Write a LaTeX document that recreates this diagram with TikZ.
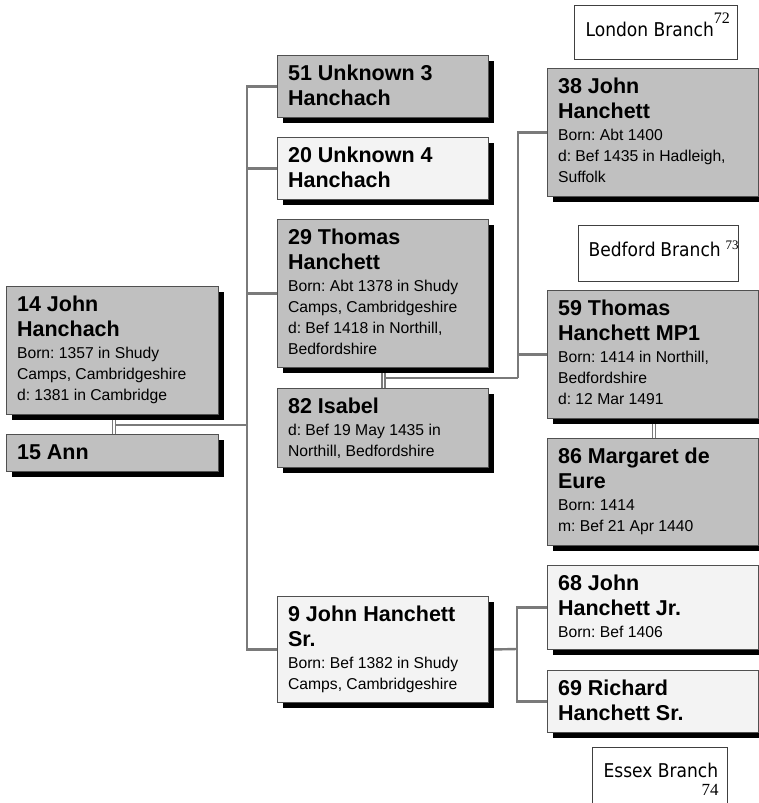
\documentclass[tikz,border=0pt]{standalone}
\usepackage{fontspec}
\setmainfont{Liberation Sans}
\newfontfamily\branchfont{DejaVu Sans Condensed}
\newfontfamily\supfont{Liberation Serif}
\usetikzlibrary{shadows,calc}
\frenchspacing
\definecolor{boxgray}{HTML}{C0C0C0}
\definecolor{boxlight}{HTML}{F3F3F3}
\definecolor{linegray}{HTML}{7A7A7A}
\definecolor{edgegray}{HTML}{505050}
\newcommand{\pbox}[4]{\parbox[c][#2pt][t]{#1pt}{\raggedright\frenchspacing
  \fontsize{21.5}{25.5}\selectfont\bfseries\rule{0pt}{24.5pt}#3\par
  \vspace{1pt}\fontsize{15.7}{21}\selectfont\mdseries #4\par}}
\newcommand{\nbox}[3]{\parbox[c][#2pt][t]{#1pt}{\raggedright\frenchspacing
  \fontsize{21.5}{25.5}\selectfont\bfseries\rule{0pt}{24.5pt}#3\par}}
\begin{document}
\begin{tikzpicture}[x=1pt,y=-1pt,
  person/.style={draw=edgegray, line width=1.1pt, anchor=north west,
    inner xsep=10.5pt, inner ysep=0pt,
    drop shadow={shadow xshift=5pt,shadow yshift=-5pt,fill=black,opacity=1}},
  gp/.style={person, fill=boxgray},
  lp/.style={person, fill=boxlight},
  branch/.style={draw=edgegray!80!black, line width=1.2pt, fill=white, anchor=north west,
    inner sep=0pt, font={\branchfont\fontsize{19}{18}\selectfont}},
  conn/.style={draw=linegray, line width=2.4pt},
  spouse/.style={draw=linegray, line width=1.6pt, double=white, double distance=1.6pt}]
\useasboundingbox (0,0) rectangle (759,803);
\clip (0,0) rectangle (759,803);
\fill[white] (0,0) rectangle (759,803);

% --- person boxes (placed first to get anchors) ---
\path
  node[gp] (p14) at (6,286) {\pbox{191}{128}{14 John\\Hanchach}{Born: 1357 in Shudy\\Camps, Cambridgeshire\\d: 1381 in Cambridge}}
  node[gp] (p15) at (6,434) {\nbox{191}{37}{15 Ann}}
  node[gp] (p51) at (277,55) {\nbox{190}{62}{51 Unknown 3\\Hanchach}}
  node[lp] (p20) at (277,137) {\nbox{190}{62}{20 Unknown 4\\Hanchach}}
  node[gp] (p29) at (277,219) {\pbox{190}{148}{29 Thomas\\Hanchett}{Born: Abt 1378 in Shudy\\Camps, Cambridgeshire\\d: Bef 1418 in Northill,\\Bedfordshire}}
  node[gp] (p82) at (277,388) {\pbox{190}{79}{82 Isabel}{d: Bef 19 May 1435 in\\Northill, Bedfordshire}}
  node[lp] (p9) at (277,596) {\pbox{190}{106}{9 John Hanchett\\Sr.}{Born: Bef 1382 in Shudy\\Camps, Cambridgeshire}}
  node[gp] (p38) at (547,68) {\pbox{190}{128}{38 John\\Hanchett}{Born: Abt 1400\\d: Bef 1435 in Hadleigh,\\Suffolk}}
  node[gp] (p59) at (547,290) {\pbox{190}{128}{59 Thomas\\Hanchett MP1}{Born: 1414 in Northill,\\Bedfordshire\\d: 12 Mar 1491}}
  node[gp] (p86) at (547,438) {\pbox{190}{107}{86 Margaret de\\Eure}{Born: 1414\\m: Bef 21 Apr 1440}}
  node[lp] (p68) at (547,565) {\pbox{190}{84}{68 John\\Hanchett Jr.}{Born: Bef 1406}}
  node[lp] (p69) at (547,670) {\nbox{190}{62}{69 Richard\\Hanchett Sr.}};

% --- connectors ---
\coordinate (c1) at (114,425);
\coordinate (bus1) at (247,425);
\coordinate (c2) at (383.5,378);
\coordinate (bus2) at (518,378);
\coordinate (bus3) at (517,649);
\draw[conn] (c1) -- (bus1);
\draw[conn] (p51.west) -| (bus1);
\draw[conn] (p9.west) -| (bus1);
\draw[conn] (p20.west) -- (p20.west -| bus1);
\draw[conn] (p29.west) -- (p29.west -| bus1);
\draw[conn] (c2) -- (bus2);
\draw[conn] (p38.west) -| (bus2);
\draw[conn] (p59.west) -- (p59.west -| bus2);
\draw[conn] (p9.east) -- (bus3);
\draw[conn] (p68.west) -| (bus3);
\draw[conn] (p69.west) -| (bus3);
\draw[spouse] ([xshift=108pt]p14.south west) -- ([xshift=108pt]p15.north west);
\draw[spouse] ([xshift=106.5pt]p29.south west) -- ([xshift=106.5pt]p82.north west);
\draw[spouse] ([xshift=107pt]p59.south west) -- ([xshift=107pt]p86.north west);

% --- redraw boxes on top of connectors ---
\path
  node[gp] at (6,286) {\pbox{191}{128}{14 John\\Hanchach}{Born: 1357 in Shudy\\Camps, Cambridgeshire\\d: 1381 in Cambridge}}
  node[gp] at (6,434) {\nbox{191}{37}{15 Ann}}
  node[gp] at (277,55) {\nbox{190}{62}{51 Unknown 3\\Hanchach}}
  node[lp] at (277,137) {\nbox{190}{62}{20 Unknown 4\\Hanchach}}
  node[gp] at (277,219) {\pbox{190}{148}{29 Thomas\\Hanchett}{Born: Abt 1378 in Shudy\\Camps, Cambridgeshire\\d: Bef 1418 in Northill,\\Bedfordshire}}
  node[gp] at (277,388) {\pbox{190}{79}{82 Isabel}{d: Bef 19 May 1435 in\\Northill, Bedfordshire}}
  node[lp] at (277,596) {\pbox{190}{106}{9 John Hanchett\\Sr.}{Born: Bef 1382 in Shudy\\Camps, Cambridgeshire}}
  node[gp] at (547,68) {\pbox{190}{128}{38 John\\Hanchett}{Born: Abt 1400\\d: Bef 1435 in Hadleigh,\\Suffolk}}
  node[gp] at (547,290) {\pbox{190}{128}{59 Thomas\\Hanchett MP1}{Born: 1414 in Northill,\\Bedfordshire\\d: 12 Mar 1491}}
  node[gp] at (547,438) {\pbox{190}{107}{86 Margaret de\\Eure}{Born: 1414\\m: Bef 21 Apr 1440}}
  node[lp] at (547,565) {\pbox{190}{84}{68 John\\Hanchett Jr.}{Born: Bef 1406}}
  node[lp] at (547,670) {\nbox{190}{62}{69 Richard\\Hanchett Sr.}};

% --- branch labels ---
\node[branch] (lon) at (574,5) {\parbox[c][54pt][t]{163pt}{\hspace*{11pt}\rule{0pt}{31pt}London Branch\raisebox{13pt}{\supfont\fontsize{16}{16}\selectfont 72}}};
\node[branch] (bed) at (578,225) {\parbox[c][56pt][t]{160pt}{\hspace*{10pt}\rule{0pt}{31pt}Bedford Branch \raisebox{7pt}{\supfont\fontsize{13}{13}\selectfont 73}}};
\node[branch] (ess) at (592,747) {\parbox[c][70pt][t]{135pt}{\hspace*{11pt}\rule{0pt}{30pt}Essex Branch\\\hspace*{\fill}{\supfont\fontsize{17}{17}\selectfont 74}\hspace*{9pt}}};
\end{tikzpicture}
\end{document}
